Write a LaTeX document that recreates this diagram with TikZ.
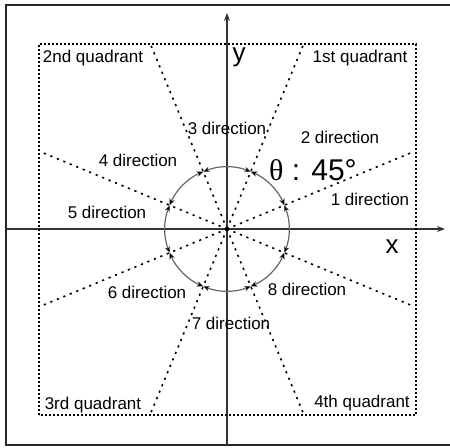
\documentclass[tikz,border=0pt]{standalone}
\usepackage{fontspec}
\setmainfont{Liberation Sans}
\newfontfamily\thetafont{Liberation Serif}
\usetikzlibrary{arrows.meta}

\def\Rc{62}
\def\Rr{202.4}

\begin{document}
\begin{tikzpicture}[
  x=0.5pt, y=0.5pt,
  frame/.style   = {line width=1.3pt, black!85},
  axis/.style    = {-{Stealth[length=4pt,width=3pt]}, line width=0.9pt, black!80},
  quadbox/.style = {line width=0.8pt, dash pattern=on 0.8pt off 1.2pt},
  ray/.style     = {line width=0.8pt, dash pattern=on 1.1pt off 2.4pt},
  arcarr/.style  = {{Stealth[length=3.2pt,width=2.6pt,black]}-{Stealth[length=3.2pt,width=2.6pt,black]},
                    line width=0.6pt, black!60},
  lbl/.style     = {font=\fontsize{8.5}{10}\selectfont, inner sep=1pt},
  axlbl/.style   = {font=\fontsize{13}{15}\selectfont, inner sep=0pt},
]
\useasboundingbox (-227,-219) rectangle (223,229);

% ---------- frame & axes ----------
\draw[frame] (-221,-216) rectangle (232,224);
\coordinate (O) at (0,0);
\coordinate (xl) at (-221,0);
\coordinate (xr) at (218,0);
\coordinate (yb) at (0,-216);
\coordinate (yt) at (0,216);
\draw[axis] (xl) -- (xr);
\draw[axis] (yb) -- (yt);
\node[axlbl] (xlab) at (165,-18) {x};
\node[axlbl] (ylab) at (12,172) {y};

% ---------- quadrant box ----------
\draw[quadbox] (-188,-186) rectangle (189,185);
\node[lbl] (q1) at (133,171)   {1st quadrant};
\node[lbl] (q2) at (-134,171)  {2nd quadrant};
\node[lbl] (q3) at (-134,-176) {3rd quadrant};
\node[lbl] (q4) at (135,-174)  {4th quadrant};

% ---------- direction rays & arcs ----------
\foreach \k in {0,...,7}{
  \pgfmathsetmacro{\a}{22.5+45*\k}
  \coordinate (ray-\k) at (\a:\Rr);
  \draw[ray] (O) -- (ray-\k);
  \draw[arcarr] (\a:\Rc) arc[start angle=\a, end angle=\a+45, radius=\Rc];
}

% ---------- labels ----------
\foreach \n/\p in {1/{(143,30)}, 2/{(113,92)}, 3/{(0,101)}, 4/{(-89,69)},
                   5/{(-120,17)}, 6/{(-80,-63)}, 7/{(4,-94)}, 8/{(80,-60)}}{
  \node[lbl] (dir-\n) at \p {\n\ direction};
}
\node[font=\fontsize{15}{17}\selectfont, inner sep=0pt] (theta) at (86,59) {{\thetafont θ} : 45°};

\end{tikzpicture}
\end{document}
